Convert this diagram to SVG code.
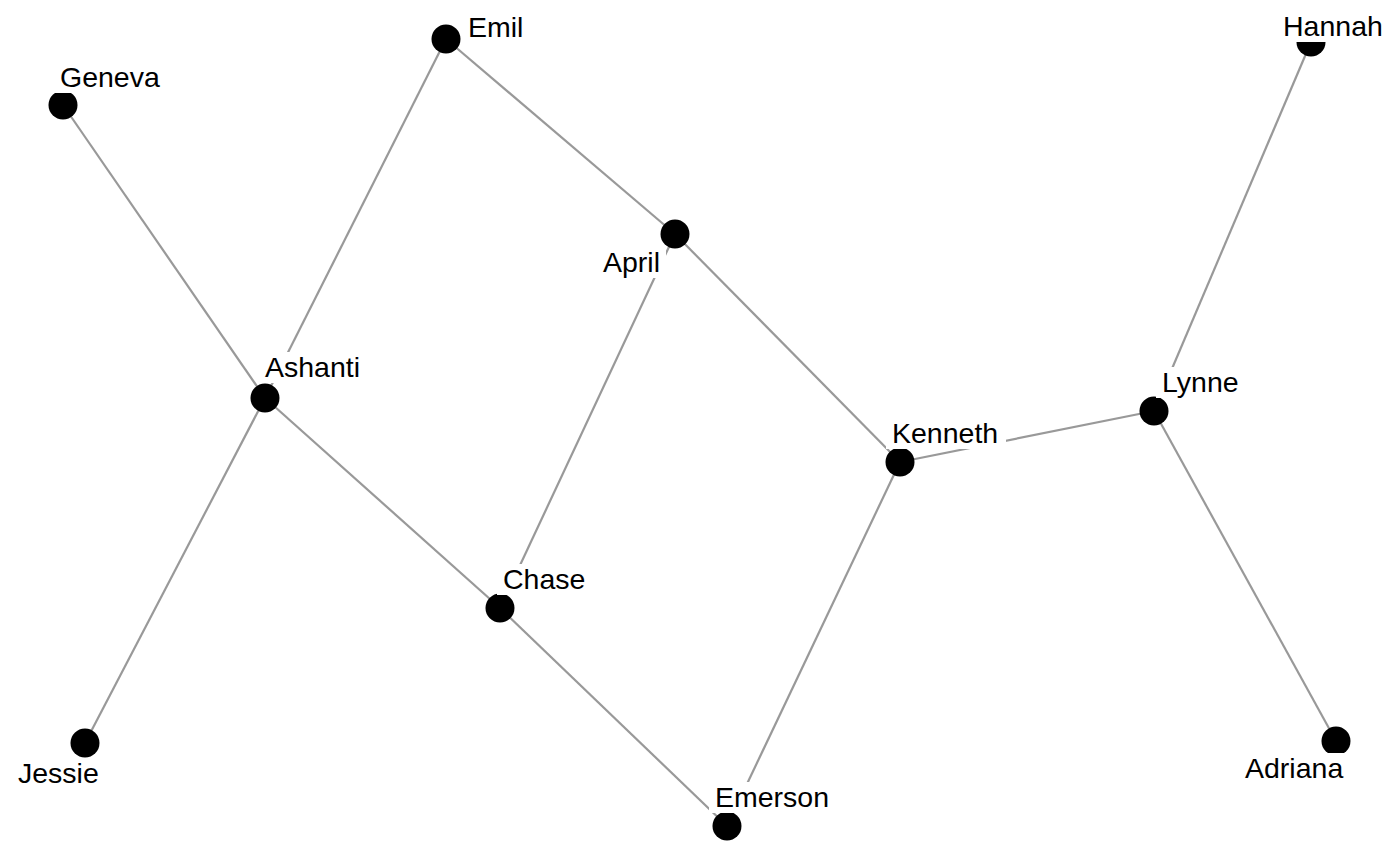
<svg xmlns="http://www.w3.org/2000/svg" width="1400" height="865" viewBox="0 0 1400 865">
<style>
.e{stroke:#999999;stroke-width:2.2;fill:none}
.n{fill:#000000}
.bg{fill:#ffffff}
.t{font-family:"Liberation Sans",Arial,sans-serif;font-size:28.5px;fill:#000000}
</style>
<rect width="1400" height="865" fill="#ffffff"/>
<g id="edges">
<line class="e" x1="63" y1="105" x2="265" y2="398"/>
<line class="e" x1="446" y1="39" x2="265" y2="398"/>
<line class="e" x1="446" y1="39" x2="675" y2="234"/>
<line class="e" x1="675" y1="234" x2="500" y2="608"/>
<line class="e" x1="675" y1="234" x2="900" y2="462"/>
<line class="e" x1="265" y1="398" x2="85" y2="743"/>
<line class="e" x1="265" y1="398" x2="500" y2="608"/>
<line class="e" x1="500" y1="608" x2="727" y2="826"/>
<line class="e" x1="900" y1="462" x2="727" y2="826"/>
<line class="e" x1="900" y1="462" x2="1154" y2="411"/>
<line class="e" x1="1154" y1="411" x2="1311" y2="42"/>
<line class="e" x1="1154" y1="411" x2="1336" y2="741"/>
</g>
<g id="node-emil"><circle class="n" cx="446" cy="39" r="14.5"/></g>
<g id="node-geneva"><circle class="n" cx="63" cy="105" r="14.5"/></g>
<g id="node-hannah"><circle class="n" cx="1311" cy="42" r="14.5"/></g>
<g id="node-april"><circle class="n" cx="675" cy="234" r="14.5"/></g>
<g id="node-ashanti"><circle class="n" cx="265" cy="398" r="14.5"/></g>
<g id="node-lynne"><circle class="n" cx="1154" cy="411" r="14.5"/></g>
<g id="node-kenneth"><circle class="n" cx="900" cy="462" r="14.5"/></g>
<g id="node-chase"><circle class="n" cx="500" cy="608" r="14.5"/></g>
<g id="node-jessie"><circle class="n" cx="85" cy="743" r="14.5"/></g>
<g id="node-adriana"><circle class="n" cx="1336" cy="741" r="14.5"/></g>
<g id="node-emerson"><circle class="n" cx="727" cy="826" r="14.5"/></g>
<g id="labels">
<rect class="bg" x="462" y="12" width="67" height="31"/><text class="t" x="468" y="37">Emil</text>
<rect class="bg" x="54" y="62" width="111" height="31"/><text class="t" x="60" y="87">Geneva</text>
<rect class="bg" x="1277" y="11" width="111" height="31"/><text class="t" x="1283" y="36">Hannah</text>
<rect class="bg" x="597" y="247" width="69" height="31"/><text class="t" x="603" y="272">April</text>
<rect class="bg" x="259" y="352" width="107" height="31"/><text class="t" x="265" y="377">Ashanti</text>
<rect class="bg" x="1156" y="367" width="90" height="31"/><text class="t" x="1162" y="392">Lynne</text>
<rect class="bg" x="886" y="418" width="120" height="31"/><text class="t" x="892" y="443">Kenneth</text>
<rect class="bg" x="497" y="564" width="95" height="31"/><text class="t" x="503" y="589">Chase</text>
<rect class="bg" x="12" y="758" width="93" height="31"/><text class="t" x="18" y="783">Jessie</text>
<rect class="bg" x="1239" y="753" width="110" height="31"/><text class="t" x="1245" y="778">Adriana</text>
<rect class="bg" x="709" y="782" width="126" height="31"/><text class="t" x="715" y="807">Emerson</text>
</g>
</svg>
